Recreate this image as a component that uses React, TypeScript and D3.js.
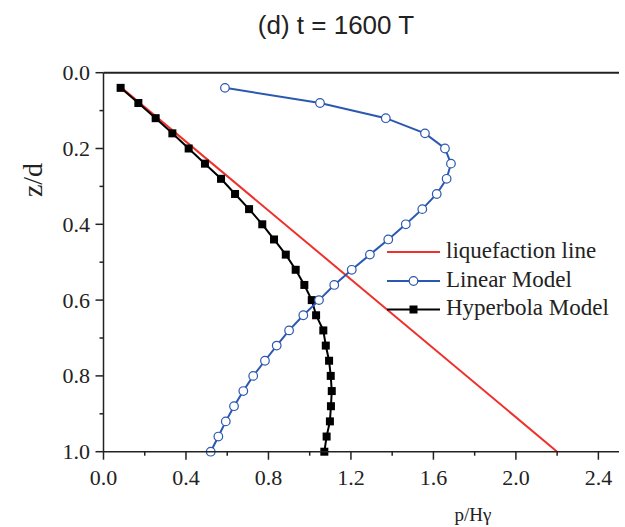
import React from "react";
import * as d3 from "d3";

const depth = [0.04,0.08,0.12,0.16,0.2,0.24,0.28,0.32,0.36,0.4,0.44,0.48,0.52,0.56,0.6,0.64,0.68,0.72,0.76,0.8,0.84,0.88,0.92,0.96,1.0];
const linearModel = [0.589,1.050,1.369,1.559,1.656,1.685,1.664,1.616,1.546,1.466,1.381,1.292,1.204,1.119,1.045,0.969,0.900,0.840,0.783,0.726,0.678,0.633,0.593,0.557,0.520];
const hyperbolaModel = [0.083,0.169,0.253,0.334,0.413,0.492,0.570,0.638,0.706,0.770,0.827,0.884,0.932,0.974,1.010,1.031,1.066,1.078,1.094,1.102,1.107,1.103,1.098,1.082,1.071];
const liqDepth = [0.04, 1.0];
const liqP = [0.088, 2.2];
const xMajor = [0, 0.4, 0.8, 1.2, 1.6, 2.0, 2.4];
const xMinor = [0.2, 0.6, 1.0, 1.4, 1.8, 2.2];
const yMajor = [0, 0.2, 0.4, 0.6, 0.8, 1.0];
const yMinor = [0.1, 0.3, 0.5, 0.7, 0.9];
const title = "(d) t = 1600 T";
const legendLabels = ["liquefaction line", "Linear Model", "Hyperbola Model"];

const W = 625, H = 527;
const RED = "#f0302c", BLUE = "#2b58b0", BLACK = "#000";
const SERIF = "Liberation Serif";
const SANS = "Liberation Sans";

export default function App() {
  const x = d3.scaleLinear().domain([0, 2.5]).range([103.5, 619]);
  const y = d3.scaleLinear().domain([0, 1]).range([72.7, 451.7]);
  const line = d3.line<[number, number]>().x(d => x(d[0])).y(d => y(d[1]));
  const linPts: [number, number][] = depth.map((z, i) => [linearModel[i], z]);
  const hypPts: [number, number][] = depth.map((z, i) => [hyperbolaModel[i], z]);
  const liqPts: [number, number][] = liqDepth.map((z, i) => [liqP[i], z]);
  const fmt = d3.format(".1f");
  const legY = [252, 281, 309.5];
  return (
    <svg width={W} height={H} style={{ position: "fixed", left: 0, top: 0, background: "#fff" }}>
      <text x={336} y={34} textAnchor="middle" fontFamily={SANS} fontSize={26} fill="#222">{title}</text>
      <path d={line(liqPts) || ""} stroke={RED} strokeWidth={2} fill="none" />
      <path d={line(hypPts) || ""} stroke={BLACK} strokeWidth={2} fill="none" />
      {hypPts.map((p, i) => (
        <rect key={"h" + i} x={x(p[0]) - 4} y={y(p[1]) - 4} width={8} height={8} fill={BLACK} />
      ))}
      <path d={line(linPts) || ""} stroke={BLUE} strokeWidth={2} fill="none" />
      {linPts.map((p, i) => (
        <circle key={"l" + i} cx={x(p[0])} cy={y(p[1])} r={4.3} fill="#fff" stroke={BLUE} strokeWidth={1.2} />
      ))}
      <line x1={x(0)} x2={x(2.5)} y1={y(0)} y2={y(0)} stroke="#222" strokeWidth={2} />
      <line x1={x(0)} x2={x(2.5)} y1={y(1)} y2={y(1)} stroke="#222" strokeWidth={1.5} />
      <line x1={x(0)} x2={x(0)} y1={y(0)} y2={y(1)} stroke="#222" strokeWidth={1.5} />
      {xMajor.map(v => (
        <g key={"xM" + v}>
          <line x1={x(v)} x2={x(v)} y1={y(1)} y2={y(1) + 8} stroke="#222" strokeWidth={1.5} />
          <text x={x(v)} y={485} textAnchor="middle" fontFamily={SERIF} fontSize={22} fill="#222">{fmt(v)}</text>
        </g>
      ))}
      {xMinor.map(v => (
        <line key={"xm" + v} x1={x(v)} x2={x(v)} y1={y(1)} y2={y(1) + 4} stroke="#222" strokeWidth={1.5} />
      ))}
      {yMajor.map(v => (
        <g key={"yM" + v}>
          <line x1={x(0) - 8} x2={x(0)} y1={y(v)} y2={y(v)} stroke="#222" strokeWidth={1.5} />
          <text x={90} y={y(v) + 7.5} textAnchor="end" fontFamily={SERIF} fontSize={22} fill="#222">{fmt(v)}</text>
        </g>
      ))}
      {yMinor.map(v => (
        <line key={"ym" + v} x1={x(0) - 4} x2={x(0)} y1={y(v)} y2={y(v)} stroke="#222" strokeWidth={1.5} />
      ))}
      <text transform="translate(42,180) rotate(-90)" textAnchor="middle" fontFamily={SERIF} fontSize={28} fill="#222">z/d</text>
      <text x={473} y={521} textAnchor="middle" fontFamily={SERIF} fontSize={19} fill="#222">p/Hγ</text>
      <line x1={387} x2={440} y1={legY[0]} y2={legY[0]} stroke={RED} strokeWidth={2} />
      <line x1={387} x2={440} y1={legY[1]} y2={legY[1]} stroke={BLUE} strokeWidth={2} />
      <circle cx={413.5} cy={legY[1]} r={4.3} fill="#fff" stroke={BLUE} strokeWidth={1.2} />
      <line x1={387} x2={440} y1={legY[2]} y2={legY[2]} stroke={BLACK} strokeWidth={2} />
      <rect x={409.5} y={legY[2] - 4} width={8} height={8} fill={BLACK} />
      {legendLabels.map((t, i) => (
        <text key={t} x={446} y={legY[i] + 5.5} fontFamily={SERIF} fontSize={23} fill="#222">{t}</text>
      ))}
    </svg>
  );
}
